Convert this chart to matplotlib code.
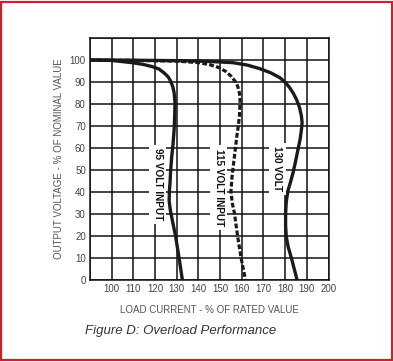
import matplotlib
matplotlib.use("Agg")
import matplotlib.pyplot as plt
from matplotlib.patches import Rectangle

plt.rcParams['font.family'] = ['Liberation Sans', 'DejaVu Sans']

# Data
v95_x = [90, 100, 109.4, 114.5, 118.7, 121.8, 124.1, 126.0, 127.2, 128.2, 128.8, 129.2, 129.1, 128.8, 128.3, 127.7, 127.2, 126.9, 126.6, 126.5, 127.0, 128.0, 129.5, 131.1, 132.6]
v95_y = [100, 99.8, 98.8, 98.0, 97.0, 95.9, 94.2, 92.4, 90.4, 87.8, 85.1, 80.5, 76.0, 68.4, 62.0, 56.2, 50.0, 44.1, 40.3, 36.0, 32.0, 27.0, 19.7, 9.9, 0]

v115_x = [90, 110, 130, 140.3, 145.5, 149.6, 152.6, 155.0, 156.8, 158.1, 158.9, 159.2, 159.1, 158.9, 158.4, 157.7, 156.6, 155.5, 155.0, 155.6, 156.6, 158.1, 159.7, 161.7]
v115_y = [100, 99.8, 99.5, 98.8, 97.8, 96.5, 94.8, 92.7, 90.5, 88.1, 85.0, 82.0, 78.0, 74.5, 70.0, 65.3, 56.2, 47.1, 40.3, 35.0, 30.4, 19.7, 9.9, 0]

v130_x = [90, 110, 130, 140.3, 148.0, 155.8, 162.5, 168.2, 173.3, 177.5, 180.1, 182.1, 183.8, 185.2, 186.6, 187.5, 187.8, 187.5, 186.9, 185.9, 184.8, 183.6, 182.3, 181.2, 180.5, 180.2, 180.2, 180.5, 181.4, 182.9, 185.5]
v130_y = [100, 99.9, 99.7, 99.5, 99.2, 98.8, 97.7, 96.1, 94.2, 92.0, 89.8, 87.4, 84.8, 82.1, 78.5, 74.5, 71.5, 68.4, 64.0, 59.3, 54.0, 48.6, 44.0, 40.3, 35.5, 30.4, 24.5, 19.7, 15.0, 9.9, 0]

x_ticks = [100, 110, 120, 130, 140, 150, 160, 170, 180, 190, 200]
y_ticks = [0, 10, 20, 30, 40, 50, 60, 70, 80, 90, 100]

curve_labels = ["95 VOLT INPUT", "115 VOLT INPUT", "130 VOLT"]
label_x = [121.3, 149.3, 176.3]
label_y = [43.5, 42.0, 50.5]

fig = plt.figure(figsize=(3.93, 3.62), dpi=100)
fig.patch.set_facecolor('white')

# red frame around the figure
fig.patches.append(Rectangle((0.003, 0.005), 0.994, 0.99, transform=fig.transFigure,
                             fill=False, edgecolor='#c8232c', linewidth=1.6))

ax = fig.add_axes([0.229, 0.2265, 0.607, 0.6685])
ax.set_xlim(90, 200)
ax.set_ylim(0, 110)
ax.set_xticks(list(range(90, 201, 10)))
ax.set_yticks(list(range(0, 111, 10)))
ax.grid(True, color='#111111', linewidth=1.1)
ax.set_axisbelow(True)
for s in ax.spines.values():
    s.set_linewidth(1.1)
    s.set_color('#111111')
ax.tick_params(length=0, pad=3, labelsize=7, colors='#444444')
ax.set_xticklabels(['' if t not in x_ticks else str(t) for t in range(90, 201, 10)])
ax.set_yticklabels(['' if t not in y_ticks else str(t) for t in range(0, 111, 10)])

ax.plot(v95_x, v95_y, color='#1a1a1a', linewidth=2.4, solid_capstyle='butt', solid_joinstyle='round')
ax.plot(v130_x, v130_y, color='#1a1a1a', linewidth=2.4, solid_capstyle='butt', solid_joinstyle='round')
ax.plot(v115_x, v115_y, color='#1a1a1a', linewidth=2.3, dashes=(1.5, 0.7))

for lbl, lx, ly in zip(curve_labels, label_x, label_y):
    ax.text(lx, ly, lbl, rotation=-90, ha='center', va='center', fontsize=7.2,
            fontweight='bold', color='#111111',
            bbox=dict(boxstyle='square,pad=0.35', facecolor='white', edgecolor='none'))

ax.set_xlabel("LOAD CURRENT - % OF RATED VALUE", fontsize=7, color='#555555', labelpad=8)
ax.set_ylabel("OUTPUT VOLTAGE - % OF NOMINAL VALUE", fontsize=7, color='#555555', labelpad=4)

fig.text(0.216, 0.085, "Figure D: Overload Performance", fontsize=9.5, style='italic',
         color='#333333', ha='left', va='center')

fig.savefig("out.png", dpi=100)
